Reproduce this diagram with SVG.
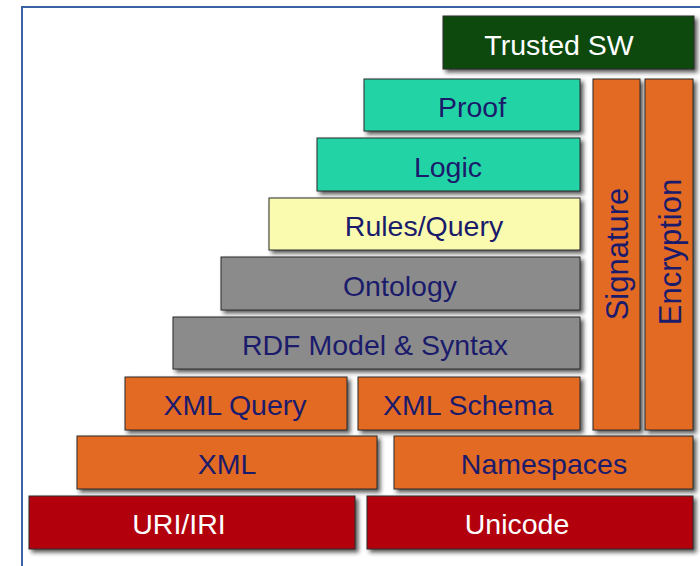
<svg xmlns="http://www.w3.org/2000/svg" width="700" height="566" viewBox="0 0 700 566">
<defs>
<filter id="sh" x="-10%" y="-20%" width="130%" height="160%">
<feDropShadow dx="3" dy="3" stdDeviation="2" flood-color="#222" flood-opacity="0.75"/>
</filter>
<style>
.b{stroke:#2a2a2a;stroke-width:1;filter:url(#sh)}
.t{font-family:"Liberation Sans",Arial,sans-serif;font-size:28.5px;fill:#1b1b6b;text-anchor:middle}
.v{font-size:31px}
.w{fill:#ffffff}
.or{fill:#e36b24}.rd{fill:#b3000f}.gy{fill:#8b8b8b}.yl{fill:#fbfbaf}.tl{fill:#22d3a6}.dg{fill:#0b4a0b}
</style>
</defs>
<rect width="700" height="566" fill="#ffffff"/>
<rect x="22" y="7" width="700" height="620" fill="none" stroke="#3b63a3" stroke-width="2"/>
<g id="trusted"><rect class="b dg" x="443" y="16" width="251" height="53"/><text class="t w" x="559" y="55">Trusted SW</text></g>
<g id="proof"><rect class="b tl" x="364" y="79" width="216" height="52"/><text class="t" x="472" y="117">Proof</text></g>
<g id="logic"><rect class="b tl" x="317" y="138" width="263" height="53"/><text class="t" x="448" y="177">Logic</text></g>
<g id="rules"><rect class="b yl" x="269" y="198" width="311" height="52"/><text class="t" x="424" y="236">Rules/Query</text></g>
<g id="ontology"><rect class="b gy" x="221" y="257" width="359" height="53"/><text class="t" x="400" y="296">Ontology</text></g>
<g id="rdf"><rect class="b gy" x="173" y="317" width="407" height="52"/><text class="t" x="375" y="355">RDF Model &amp; Syntax</text></g>
<g id="xmlquery"><rect class="b or" x="125" y="377" width="222" height="53"/><text class="t" x="235" y="415">XML Query</text></g>
<g id="xmlschema"><rect class="b or" x="358" y="377" width="222" height="53"/><text class="t" x="468" y="415">XML Schema</text></g>
<g id="xml"><rect class="b or" x="77" y="436" width="300" height="53"/><text class="t" x="227" y="474">XML</text></g>
<g id="namespaces"><rect class="b or" x="394" y="436" width="299" height="53"/><text class="t" x="544" y="474">Namespaces</text></g>
<g id="uri"><rect class="b rd" x="29" y="496" width="326" height="53"/><text class="t w" x="179" y="534">URI/IRI</text></g>
<g id="unicode"><rect class="b rd" x="367" y="496" width="326" height="53"/><text class="t w" x="517" y="534">Unicode</text></g>
<g id="signature"><rect class="b or" x="593" y="79" width="47" height="351"/><text class="t v" transform="translate(628,254) rotate(-90)">Signature</text></g>
<g id="encryption"><rect class="b or" x="645" y="79" width="48" height="351"/><text class="t v" transform="translate(681,252) rotate(-90)">Encryption</text></g>
<g id="connectors"></g>
</svg>
